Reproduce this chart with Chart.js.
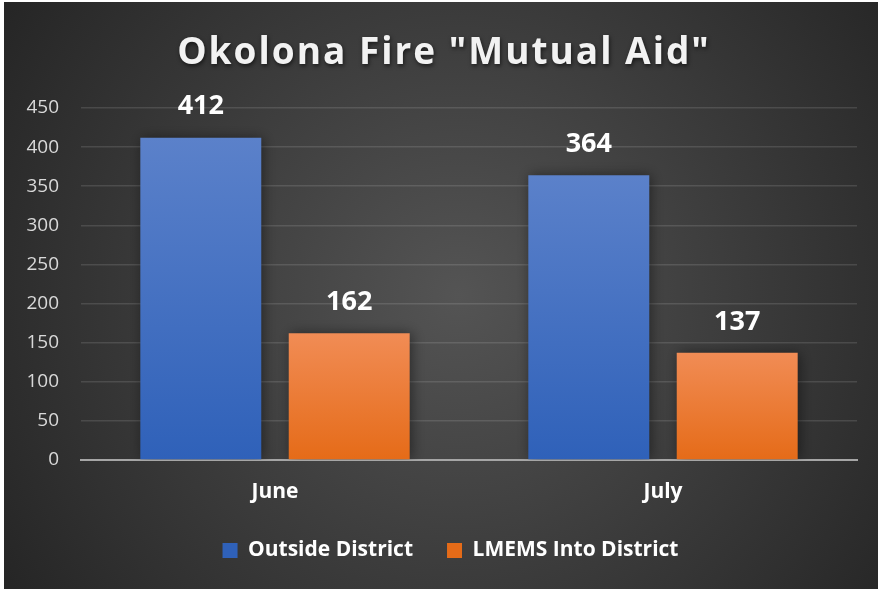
<!DOCTYPE html>
<html>
<head>
<meta charset="utf-8">
<script src="https://cdn.jsdelivr.net/npm/chart.js@4.4.0/dist/chart.umd.min.js"></script>
<style>
  html, body { margin: 0; padding: 0; background: #fff; }
  #wrap { position: absolute; left: 4px; top: 2px; width: 874px; height: 587px; }
</style>
</head>
<body>
<div id="wrap"><canvas id="mutualAid"></canvas></div>
<script>
var chartTitle = 'Okolona Fire "Mutual Aid"';
var months = ['June', 'July'];
var outsideDistrict = [412, 364];
var lmemsIntoDistrict = [162, 137];
var seriesNames = ['Outside District', 'LMEMS Into District'];
var yMax = 450;
var yStep = 50;

var FONT = '"Open Sans", "DejaVu Sans", sans-serif';

// gradient per bar, from its top down to the zero line
function barGradient(topColor, bottomColor, flatColor) {
  return function(context) {
    var chart = context.chart;
    var yScale = chart.scales.y;
    if (context.type !== 'data' || !yScale) return flatColor;
    var yTop = yScale.getPixelForValue(context.raw);
    var yBot = yScale.getPixelForValue(0);
    if (!isFinite(yTop) || !isFinite(yBot) || yTop === yBot) return flatColor;
    var g = chart.ctx.createLinearGradient(0, yTop, 0, yBot);
    g.addColorStop(0, topColor);
    g.addColorStop(1, bottomColor);
    return g;
  };
}

var backdrop = {
  id: 'backdrop',
  beforeDraw: function(chart) {
    var ctx = chart.ctx, w = chart.width, h = chart.height;
    var g = ctx.createRadialGradient(w * 0.52, h * 0.5, 0, w * 0.52, h * 0.5, Math.hypot(w, h) * 0.55);
    g.addColorStop(0, '#545454');
    g.addColorStop(1, '#222222');
    ctx.save();
    ctx.fillStyle = g;
    ctx.fillRect(0, 0, w, h);
    ctx.restore();
  }
};

// nudge the legend row a little to the right, like the original
var legendShift = {
  id: 'legendShift',
  afterLayout: function(chart) {
    if (chart.legend) {
      chart.legend.left += 15;
      chart.legend.right += 15;
    }
  }
};

var titleText = {
  id: 'titleText',
  afterDraw: function(chart) {
    var ctx = chart.ctx;
    ctx.save();
    ctx.font = 'bold 37px ' + FONT;
    ctx.letterSpacing = '2px';
    ctx.textAlign = 'center';
    ctx.textBaseline = 'alphabetic';
    ctx.shadowColor = 'rgba(0,0,0,0.6)';
    ctx.shadowBlur = 4;
    ctx.shadowOffsetX = 1;
    ctx.shadowOffsetY = 2;
    ctx.fillStyle = '#f2f2f2';
    ctx.fillText(chartTitle, 440, 62);
    ctx.restore();
  }
};

var barShadowAndLabels = {
  id: 'barShadowAndLabels',
  beforeDatasetsDraw: function(chart) {
    var ctx = chart.ctx;
    ctx.save();
    ctx.shadowColor = 'rgba(0,0,0,0.45)';
    ctx.shadowBlur = 12;
    ctx.shadowOffsetX = 2;
    ctx.shadowOffsetY = 0;
  },
  afterDatasetsDraw: function(chart) {
    var ctx = chart.ctx;
    ctx.restore();
    ctx.save();
    ctx.font = 'bold 27px ' + FONT;
    ctx.fillStyle = '#ffffff';
    ctx.textAlign = 'center';
    ctx.textBaseline = 'middle';
    chart.data.datasets.forEach(function(ds, i) {
      chart.getDatasetMeta(i).data.forEach(function(bar, j) {
        ctx.fillText(String(ds.data[j]), bar.x, bar.y - 31);
      });
    });
    ctx.restore();
  }
};

var ctx = document.getElementById('mutualAid').getContext('2d');
var mutualAidChart = new Chart(ctx, {
  type: 'bar',
  data: {
    labels: months,
    datasets: [{
      label: seriesNames[0],
      data: outsideDistrict,
      backgroundColor: barGradient('#5b81ca', '#2f61b9', '#4472c4'),
      categoryPercentage: 0.765,
      barPercentage: 0.815
    }, {
      label: seriesNames[1],
      data: lmemsIntoDistrict,
      backgroundColor: barGradient('#f18c55', '#e56b18', '#ed7d31'),
      categoryPercentage: 0.765,
      barPercentage: 0.815
    }]
  },
  options: {
    responsive: true,
    maintainAspectRatio: false,
    animation: false,
    layout: { padding: { top: 106, left: 10, right: 21, bottom: 18 } },
    plugins: {
      title: { display: false },
      tooltip: { enabled: false },
      legend: {
        position: 'bottom',
        labels: {
          color: '#ffffff',
          font: { family: FONT, size: 21, weight: 'bold' },
          boxWidth: 15,
          boxHeight: 15,
          padding: 34
        }
      }
    },
    scales: {
      x: {
        grid: { display: false },
        border: { display: true, color: '#a6a6a6', width: 2 },
        ticks: { color: '#ffffff', font: { family: FONT, size: 21, weight: 'bold' }, padding: 11 },
        afterFit: function(scale) { scale.height = 46; }
      },
      y: {
        min: 0,
        max: yMax,
        border: { display: false },
        grid: {
          drawTicks: false,
          color: function(c) { return c.tick && c.tick.value === 0 ? 'rgba(0,0,0,0)' : 'rgba(255,255,255,0.12)'; },
          lineWidth: 1.5
        },
        ticks: { stepSize: yStep, color: '#d9d9d9', font: { family: FONT, size: 19 }, padding: 22 },
        afterFit: function(scale) { scale.width = 67; }
      }
    }
  },
  plugins: [backdrop, legendShift, titleText, barShadowAndLabels]
});
</script>
</body>
</html>
